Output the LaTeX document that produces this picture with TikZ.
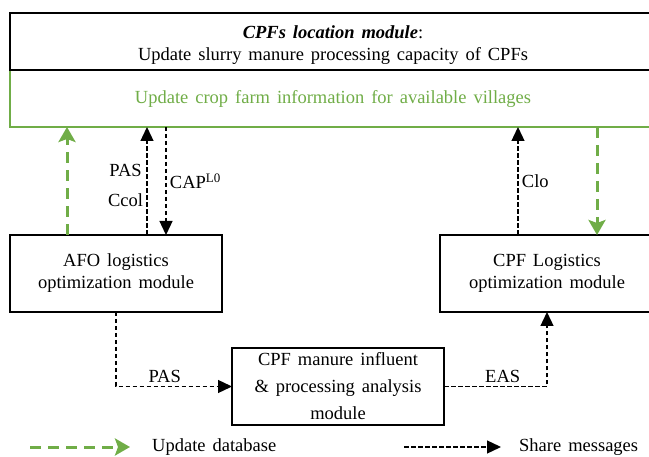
\documentclass[tikz,border=0pt]{standalone}
\usepackage{fontspec}
\setmainfont{Liberation Serif}[WordSpace=1.5]
\usepackage{tikz}
\usetikzlibrary{arrows.meta,positioning}
\usepackage{xcolor}
\definecolor{dbgreen}{RGB}{112,173,71}
\tikzstyle{msgarrow} = [line width=1.3pt, dash pattern=on 4.5pt off 2.5pt, -{Triangle[width=13pt,length=14pt]}]
\tikzstyle{dbarrow} = [line width=3pt, dash pattern=on 11pt off 7pt, color=dbgreen, -{Stealth[width=17pt,length=15pt,inset=3pt]}]
\tikzstyle{modnode} = [rectangle, draw=black, line width=2pt, minimum width=212pt,
    minimum height=77pt, inner sep=0pt, outer sep=0pt, align=center]
\tikzstyle{locbox} = [rectangle, draw=black, line width=2pt, minimum width=646pt,
    minimum height=57pt, inner sep=0pt, outer sep=0pt, align=center]
\tikzstyle{vilbox} = [locbox, draw=dbgreen, text=dbgreen]
\tikzstyle{legendtext} = [anchor=west, inner sep=0pt]

\begin{document}
\begin{tikzpicture}[x=1pt, y=1pt, font=\fontsize{18.5}{22}\selectfont, >=Triangle]
\useasboundingbox (0,0) rectangle (649,456);
\node[vilbox] (vil) at (333,357.5) {Update crop farm information for available villages};
\node[locbox, above=0pt of vil] (loc) {\rule{0pt}{20pt}\textbf{\textit{CPFs location module}}:\\Update slurry manure processing capacity of CPFs};
\node[modnode] (afo) at (116,182.5) {AFO logistics\\optimization module};
\node[modnode, minimum width=214pt] (cpf) at (547,182.5) {CPF Logistics\\optimization module};
\node[modnode] (mid) at (338,69.5) {CPF manure influent\\[5pt]\& processing analysis\\[5pt]module};

\coordinate (gup) at ([xshift=-49pt]afo.north);
\coordinate (pasup) at ([xshift=31pt]afo.north);
\coordinate (capdn) at ([xshift=50pt]afo.north);
\coordinate (cloup) at ([xshift=-29pt]cpf.north);
\coordinate (gdn) at ([xshift=50pt]cpf.north);

\draw[dbarrow] (gup) -- (gup |- vil.south);
\draw[msgarrow] (pasup) -- node[pos=0.46, left, align=center]{PAS\\[8pt]Ccol} (pasup |- vil.south);
\draw[msgarrow] (capdn |- vil.south) -- node[right]{CAP\textsuperscript{L0}} (capdn);
\draw[msgarrow] (cloup) -- node[right]{Clo} (cloup |- vil.south);
\draw[dbarrow] (gdn |- vil.south) -- (gdn);
\draw[msgarrow] (afo.south) |- node[pos=0.71, above]{PAS} (mid.west);
\draw[msgarrow] (mid.east) -| node[pos=0.285, above]{EAS} (cpf.south);

\coordinate (lgdb) at (30,9);
\coordinate (lgmsg) at (404,9);
\node[legendtext, right=122pt of lgdb] (lgdbtext) {Update database};
\node[legendtext, right=115pt of lgmsg] (lgmsgtext) {Share messages};
\draw[dbarrow] (lgdb) -- ([xshift=-22pt]lgdbtext.west);
\draw[msgarrow] (lgmsg) -- ([xshift=-18pt]lgmsgtext.west);
\end{tikzpicture}
\end{document}
